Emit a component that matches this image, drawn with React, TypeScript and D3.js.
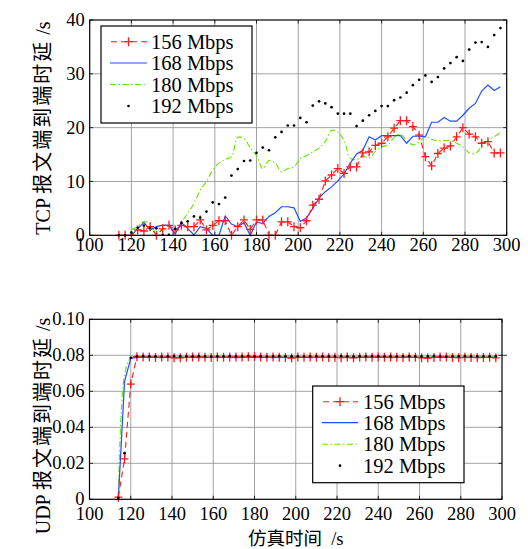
import React from "react";
import * as d3 from "d3";

const tcpTime = [114,117,120,123,126,129,132,135,138,141,144,147,150,153,156,159,162,165,168,171,174,177,180,183,186,189,192,195,198,201,204,207,210,213,216,219,222,225,228,231,234,237,240,243,246,249,252,255,258,261,264,267,270,273,276,279,282,285,288,291,294,297];

const tcp156 = [0,0,0,1.0,0.8,1.6,0,1.2,1.85,1.0, 1.85,1.6,1.6,2.85,1.0,1.85,2.7,2.7,0,1.6, 2.85,1.1,2.85,2.85,0,0,2.5,2.5,1.6,1.4, 2.7,5.6,6.7,10.1,11.2,12.4,11.5,12.7,12.7,15.3, 15.5,16.7,17.1,18.3,19.9,21.3,21.3,20.2,18.6,14.6, 12.9,15.2,16.2,16.6,18.3,20.0,18.8,18.3,17.1,17.4, 15.3,15.3];
const tcp168 = [null,null,0,1.2,2.4,1.0,1.6,1.9,1.85,0.25, 2.35,1.3,0.05,1.6,1.3,0,0,3.6,2.1,1.6, 2.35,0,2.5,2.2,3.5,4.2,5.3,5.3,5.1,2.6, 3.2,5.0,6.9,8.1,9.0,10.1,11.4,13.4,15.1,15.8, 18.3,17.7,18.5,18.5,18.5,18.5,17.1,18.4,18.4,18.3, 21.0,21.0,21.9,21.2,21.2,22.3,23.6,24.5,26.8,27.9, 26.9,27.6];
const tcp180 = [null,null,1.1,1.6,2.5,2.2,0.3,1.1,1.7,0.3, 2.4,4.1,5.9,8.4,10.0,12.1,13.4,14.1,14.6,18.2, 18.0,16.2,14.8,12.4,13.9,13.4,11.8,12.4,12.7,14.3, 14.8,15.5,16.2,17.4,19.5,19.2,17.6,14.3,14.1,14.7, 14.4,15.6,16.4,16.8,18.2,18.8,17.6,16.8,17.3,18.4, 17.8,17.6,17.6,17.6,17.1,16.5,15.3,15.2,16.5,17.6, 18.3,19.1];
const tcp192 = [0,0,0.5,1.4,1.8,1.4,1.3,0.1,0.1,1.2, 2.3,2.6,3.5,3.3,4.4,6.1,5.8,7.0,11.1,12.3, 13.8,13.9,15.3,16.3,15.8,18.2,19.2,20.4,20.4,21.8, 21.0,24.1,24.9,24.5,23.8,22.6,22.6,22.6,20.3,21.3, 22.3,23.1,24.0,24.0,25.1,25.6,26.5,27.9,28.9,29.7, 28.5,29.4,31.0,32.0,33.1,32.4,34.5,35.8,35.9,35.0, 37.2,38.5];

const udpTime = tcpTime;
const udp156 = [0.0012,0.0225,0.0640,0.0792,0.0790,0.0791,0.0788,0.0790,0.0791,0.0786,0.0786,0.0789,0.0790,0.0791,0.0789,0.0788,0.0790,0.0789,0.0790,0.0791,0.0790,0.0792,0.0793,0.0790,0.0789,0.0790,0.0789,0.0788,0.0785,0.0790,0.0789,0.0790,0.0789,0.0790,0.0788,0.0789,0.0787,0.0790,0.0786,0.0789,0.0790,0.0789,0.0791,0.0789,0.0790,0.0789,0.0788,0.0790,0.0789,0.0786,0.0785,0.0788,0.0791,0.0790,0.0788,0.0787,0.0789,0.0788,0.0787,0.0788,0.0789,0.0786];
const udp168 = [0.0010,0.0655,0.0783,0.0788,0.0788,0.0789,0.0788,0.0787,0.0788,0.0788,0.0789,0.0788,0.0788,0.0787,0.0788,0.0788,0.0789,0.0788,0.0788,0.0787,0.0788,0.0789,0.0788,0.0788,0.0788,0.0787,0.0788,0.0788,0.0789,0.0788,0.0788,0.0787,0.0788,0.0788,0.0789,0.0788,0.0788,0.0788,0.0787,0.0788,0.0789,0.0788,0.0788,0.0788,0.0787,0.0788,0.0788,0.0789,0.0788,0.0788,0.0787,0.0788,0.0788,0.0789,0.0788,0.0788,0.0787,0.0788,0.0788,0.0789,0.0788,0.0788];
const udp180 = [0.0012,0.0690,0.0786,0.0790,0.0790,0.0791,0.0790,0.0790,0.0789,0.0790,0.0791,0.0790,0.0790,0.0790,0.0791,0.0790,0.0789,0.0790,0.0790,0.0791,0.0790,0.0790,0.0791,0.0790,0.0790,0.0789,0.0790,0.0790,0.0791,0.0790,0.0790,0.0790,0.0789,0.0790,0.0791,0.0790,0.0790,0.0790,0.0791,0.0790,0.0789,0.0790,0.0790,0.0791,0.0790,0.0790,0.0790,0.0789,0.0790,0.0791,0.0790,0.0790,0.0790,0.0791,0.0790,0.0789,0.0790,0.0790,0.0791,0.0790,0.0790,0.0790];
const udp192 = [0.0008,0.0256,0.0786,0.0794,0.0795,0.0794,0.0794,0.0793,0.0794,0.0795,0.0794,0.0794,0.0794,0.0795,0.0794,0.0793,0.0794,0.0794,0.0795,0.0794,0.0794,0.0796,0.0794,0.0794,0.0793,0.0794,0.0795,0.0794,0.0794,0.0794,0.0793,0.0794,0.0795,0.0794,0.0794,0.0794,0.0795,0.0794,0.0793,0.0794,0.0794,0.0795,0.0794,0.0794,0.0794,0.0793,0.0794,0.0795,0.0794,0.0794,0.0794,0.0795,0.0794,0.0793,0.0794,0.0794,0.0795,0.0794,0.0794,0.0794,0.0794,0.0794];

const xTicks = [100,120,140,160,180,200,220,240,260,280,300];
const tcpYTicks = [0,10,20,30,40];
const udpYTicks = [0,0.02,0.04,0.06,0.08,0.1];
const udpYLabels = ["0","0.02","0.04","0.06","0.08","0.10"];
const seriesNames = ["156 Mbps","168 Mbps","180 Mbps","192 Mbps"];

const SERIF = "'Liberation Serif','DejaVu Serif',serif";
const CJK = "'Noto Sans CJK SC','Noto Sans CJK JP',sans-serif";
const RED = "#ff1a1a";
const BLUE = "#1f4fff";
const GREEN = "#66e600";
const GRID = "#8c8c8c";

type Pt = [number, number | null];

function Cross({ x, y }: { x: number; y: number }) {
  return <path d={`M${x - 4},${y}H${x + 4}M${x},${y - 4.5}V${y + 4.5}`} stroke={RED} strokeWidth={1.3} fill="none" />;
}

function Panel(props: {
  x: d3.ScaleLinear<number, number>;
  y: d3.ScaleLinear<number, number>;
  yTicks: number[];
  yLabels: string[];
  time: number[];
  s156: (number | null)[];
  s168: (number | null)[];
  s180: (number | null)[];
  s192: (number | null)[];
  legend: { x0: number; x1: number; y0: number; y1: number; rows: number[]; lx0: number; lx1: number; tx: number };
  yTitle: string;
  yTitleLatin: string;
  yTitleY: number;
  tickBaseline: number;
}) {
  const { x, y, time } = props;
  const [xa, xb] = x.range();
  const [ya, yb] = y.range();
  const mk = (s: (number | null)[]): Pt[] => time.map((t, i) => [t, s[i]]);
  const lineGen = (curve: d3.CurveFactory) =>
    d3.line<Pt>().defined((d) => d[1] !== null).x((d) => x(d[0])).y((d) => y(d[1] as number)).curve(curve);
  const lin = lineGen(d3.curveLinear);
  const smooth = lineGen(d3.curveCatmullRom.alpha(0.5));
  const p156 = mk(props.s156);
  const p168 = mk(props.s168);
  const p180 = mk(props.s180);
  const p192 = mk(props.s192);
  const L = props.legend;
  return (
    <g>
      {xTicks.slice(1, -1).map((t) => (
        <line key={"gx" + t} x1={x(t)} x2={x(t)} y1={yb} y2={ya} stroke={GRID} strokeWidth={0.8} />
      ))}
      {props.yTicks.slice(1, -1).map((t) => (
        <line key={"gy" + t} x1={xa} x2={xb} y1={y(t)} y2={y(t)} stroke={GRID} strokeWidth={0.8} />
      ))}
      {xTicks.map((t) => (
        <g key={"tx" + t}>
          <line x1={x(t)} x2={x(t)} y1={ya} y2={ya - 3.5} stroke="#000" strokeWidth={0.8} />
          <line x1={x(t)} x2={x(t)} y1={yb} y2={yb + 3.5} stroke="#000" strokeWidth={0.8} />
        </g>
      ))}
      {props.yTicks.map((t) => (
        <g key={"ty" + t}>
          <line x1={xa} x2={xa + 3.5} y1={y(t)} y2={y(t)} stroke="#000" strokeWidth={0.8} />
          <line x1={xb} x2={xb - 3.5} y1={y(t)} y2={y(t)} stroke="#000" strokeWidth={0.8} />
        </g>
      ))}
      <path d={smooth(p180) || ""} fill="none" stroke={GREEN} strokeWidth={1.1} strokeDasharray="6 2.5 1.5 2.5" />
      <path d={lin(p168) || ""} fill="none" stroke={BLUE} strokeWidth={1.2} />
      <path d={lin(p156) || ""} fill="none" stroke={RED} strokeWidth={1.1} strokeDasharray="6 4" />
      {p156.filter((d) => d[1] !== null).map((d, i) => (
        <Cross key={"c" + i} x={x(d[0])} y={y(d[1] as number)} />
      ))}
      {p192.filter((d) => d[1] !== null).map((d, i) => (
        <circle key={"d" + i} cx={x(d[0])} cy={y(d[1] as number)} r={1.35} fill="#000" />
      ))}
      <rect x={xa} y={yb} width={xb - xa} height={ya - yb} fill="none" stroke="#000" strokeWidth={1.2} />
      {xTicks.map((t) => (
        <text key={"lx" + t} x={x(t)} y={props.tickBaseline} textAnchor="middle" fontFamily={SERIF} fontSize={18.5}>
          {t}
        </text>
      ))}
      {props.yTicks.map((t, i) => (
        <text key={"ly" + t} x={xa - 5} y={y(t)} dy="0.33em" textAnchor="end" fontFamily={SERIF} fontSize={18.5}>
          {props.yLabels[i]}
        </text>
      ))}
      <text transform={`translate(43,${props.yTitleY}) rotate(-90)`} textAnchor="middle" dy="0.35em" fontSize={20}>
        <tspan fontFamily={SERIF}>{props.yTitleLatin} </tspan>
        <tspan fontFamily={CJK} letterSpacing={2}>{props.yTitle}</tspan>
        <tspan fontFamily={SERIF}>{"\u00a0/s"}</tspan>
      </text>
      <rect x={L.x0} y={L.y0} width={L.x1 - L.x0} height={L.y1 - L.y0} fill="#fff" stroke="#000" strokeWidth={1.2} />
      {seriesNames.map((name, i) => {
        const ry = L.rows[i];
        const mid = (L.lx0 + L.lx1) / 2;
        return (
          <g key={"lg" + i}>
            {i === 0 && (
              <g>
                <line x1={L.lx0} x2={L.lx1} y1={ry} y2={ry} stroke={RED} strokeWidth={1.1} strokeDasharray="6 4" strokeDashoffset={-1} />
                <Cross x={mid} y={ry} />
              </g>
            )}
            {i === 1 && <line x1={L.lx0} x2={L.lx1} y1={ry} y2={ry} stroke={BLUE} strokeWidth={1.2} />}
            {i === 2 && <line x1={L.lx0} x2={L.lx1} y1={ry} y2={ry} stroke={GREEN} strokeWidth={1.1} strokeDasharray="6 2.5 1.5 2.5" />}
            {i === 3 && <circle cx={mid} cy={ry} r={1.35} fill="#000" />}
            <text x={L.tx} y={ry} dy="0.35em" fontFamily={SERIF} fontSize={20.5}>
              {name}
            </text>
          </g>
        );
      })}
    </g>
  );
}

export default function App() {
  const xTop = d3.scaleLinear().domain([100, 300]).range([89.7, 506.7]);
  const yTop = d3.scaleLinear().domain([0, 40]).range([235.3, 20]);
  const xBot = d3.scaleLinear().domain([100, 300]).range([89.5, 502]);
  const yBot = d3.scaleLinear().domain([0, 0.1]).range([499.3, 319.3]);
  return (
    <svg width={528} height={549} style={{ position: "absolute", left: 0, top: 0, background: "#fff" }}>
      <rect x={0} y={0} width={528} height={549} fill="#fff" />
      <Panel
        x={xTop}
        y={yTop}
        yTicks={tcpYTicks}
        yLabels={tcpYTicks.map(String)}
        time={tcpTime}
        s156={tcp156}
        s168={tcp168}
        s180={tcp180}
        s192={tcp192}
        legend={{ x0: 101, x1: 252, y0: 26, y1: 123, rows: [41.7, 63, 84.5, 106], lx0: 110, lx1: 147, tx: 151 }}
        yTitle="报文端到端时延"
        yTitleLatin="TCP"
        yTitleY={128}
        tickBaseline={251}
      />
      <Panel
        x={xBot}
        y={yBot}
        yTicks={udpYTicks}
        yLabels={udpYLabels}
        time={udpTime}
        s156={udp156}
        s168={udp168}
        s180={udp180}
        s192={udp192}
        legend={{ x0: 312.7, x1: 464, y0: 386, y1: 482.7, rows: [401.7, 422.7, 444.3, 465.7], lx0: 322, lx1: 358, tx: 363 }}
        yTitle="报文端到端时延"
        yTitleLatin="UDP"
        yTitleY={426}
        tickBaseline={520}
      />
      <line x1={xBot(300)} x2={xBot(300) + 5} y1={yBot(0.08)} y2={yBot(0.08)} stroke="#000" strokeWidth={0.8} />
      <text x={(xBot(100) + xBot(300)) / 2} y={545} textAnchor="middle" fontSize={18.5}>
        <tspan fontFamily={CJK}>仿真时间</tspan>
        <tspan fontFamily={SERIF}>{"\u00a0\u00a0/s"}</tspan>
      </text>
    </svg>
  );
}
